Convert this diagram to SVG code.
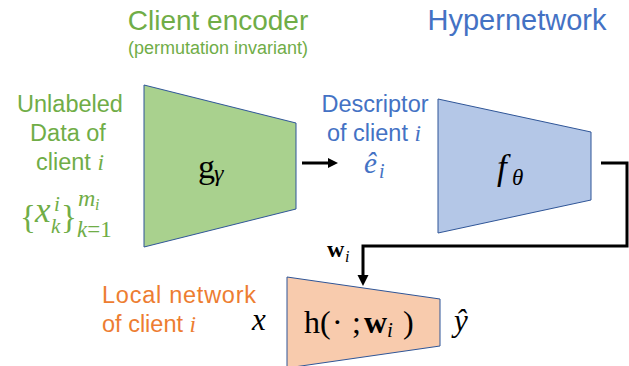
<svg xmlns="http://www.w3.org/2000/svg" width="629" height="366" viewBox="0 0 629 366">
<style>
.sans{font-family:"Liberation Sans",Arial,sans-serif}
.serif{font-family:"Liberation Serif","Times New Roman",serif}
.it{font-style:italic}
.g{fill:#70AD47}
.b{fill:#4472C4}
.o{fill:#ED7D31}
.k{fill:#000}
.trap{stroke:#2F5597;stroke-width:1}
.conn{fill:none;stroke:#000;stroke-width:3}
</style>
<rect width="629" height="366" fill="#fff"/>

<g id="titles">
<text class="sans g" x="218" y="30" font-size="28" text-anchor="middle">Client encoder</text>
<text class="sans g" x="218" y="54" font-size="18" text-anchor="middle">(permutation invariant)</text>
<text class="sans b" x="517" y="30" font-size="29" text-anchor="middle">Hypernetwork</text>
</g>

<g id="data">
<text class="sans g" x="70" y="112" font-size="23.5" text-anchor="middle">Unlabeled</text>
<text class="sans g" x="68" y="141" font-size="23.5" text-anchor="middle">Data of</text>
<text class="sans g" x="70" y="170" font-size="23.5" text-anchor="middle">client <tspan class="serif it">i</tspan></text>
<text class="serif g" x="20" y="228" font-size="33">{</text>
<text class="serif it g" x="35" y="222" font-size="35">x</text>
<text class="serif it g" x="54" y="211" font-size="21">i</text>
<text class="serif it g" x="51" y="233" font-size="21">k</text>
<text class="serif g" x="61" y="228" font-size="33">}</text>
<text class="serif it g" x="78" y="206" font-size="24">m</text>
<text class="serif it g" x="95" y="210" font-size="16">i</text>
<text class="serif g" x="77" y="237" font-size="23"><tspan class="it">k</tspan>=1</text>
</g>

<g id="encoder">
<polygon class="trap" points="144,85 296,123 296,209 144,247" fill="#A9D18E"/>
<text class="serif k" x="198" y="178" font-size="34">g</text>
<text class="serif it k" x="214" y="181" font-size="24">γ</text>
</g>

<g id="descriptor">
<text class="sans b" x="375" y="112" font-size="23.5" text-anchor="middle">Descriptor</text>
<text class="sans b" x="374" y="141" font-size="23.5" text-anchor="middle">of client <tspan class="serif it">i</tspan></text>
<text class="serif it b" x="364" y="173" font-size="29">ê</text>
<text class="serif it b" x="379" y="178" font-size="20">i</text>
</g>

<g id="hypernetwork">
<polygon class="trap" points="438,99 591,132 591,200 438,233" fill="#B4C7E7"/>
<text class="serif it k" x="497" y="179" font-size="35">f</text>
<text class="serif it k" x="512" y="185" font-size="23">θ</text>
</g>

<g id="local">
<text class="sans o" x="102" y="303" font-size="23.5" textLength="154">Local network</text>
<text class="sans o" x="102" y="332" font-size="23.5">of client <tspan class="serif it">i</tspan></text>
<text class="serif it k" x="252" y="330" font-size="31">x</text>
<polygon class="trap" points="287,277 440,299 440,346 287,368" fill="#F8CBAD"/>
<text class="serif k" x="304" y="333" font-size="32">h</text>
<text class="serif k" x="320" y="333" font-size="32">(</text>
<text class="serif k" x="332" y="333" font-size="32">·</text>
<text class="serif k" x="352" y="333" font-size="32">;</text>
<text class="serif k" x="364" y="333" font-size="32" font-weight="bold">w</text>
<text class="serif it k" x="387" y="337" font-size="21">i</text>
<text class="serif k" x="403" y="333" font-size="32">)</text>
<text class="serif it k" x="454" y="331" font-size="31">ŷ</text>
</g>

<g id="connectors">
<line class="conn" x1="302" y1="163" x2="329" y2="163"/>
<polygon points="328,158 338,163 328,168" fill="#000"/>
<polyline class="conn" points="601,163 627,163 627,246 363,246 363,276"/>
<polygon points="357.5,275 363,286 368.5,275" fill="#000"/>
<text class="serif k" x="327" y="257" font-size="24" font-weight="bold">w</text>
<text class="serif it k" x="345" y="262" font-size="16">i</text>
</g>
</svg>
